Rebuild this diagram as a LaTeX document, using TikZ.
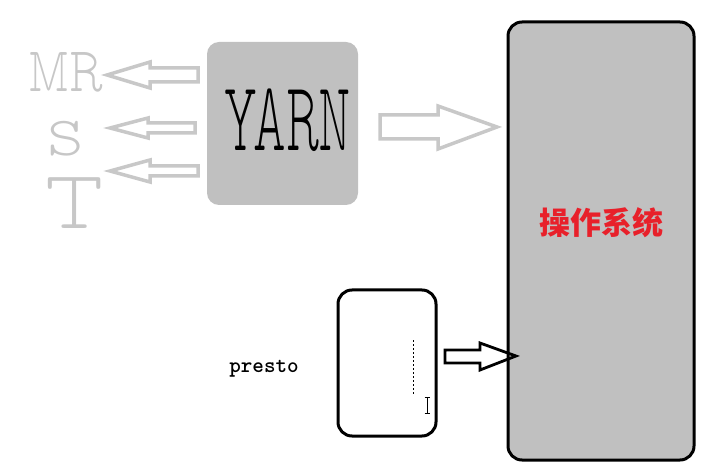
\documentclass[tikz,border=0pt]{standalone}
\usepackage{fontspec}
\newfontfamily\cjk{Noto Sans CJK SC}
\newfontfamily\fina{lmmonoproplt10-regular.otf}
\usetikzlibrary{positioning}
\definecolor{grisc}{HTML}{C0C0C0}
\definecolor{grisf}{HTML}{C8C8C8}
\definecolor{rojo}{HTML}{E8202A}
\tikzset{
  caja/.style={rectangle, rounded corners=14pt, fill=grisc, inner sep=0pt},
  flechagris/.style={draw=grisf, line width=3.5pt, line join=miter},
  flechanegra/.style={draw=black, line width=2.8pt, line join=miter},
  mano/.style={text=black!22, inner sep=0pt}
}
\begin{document}
\begin{tikzpicture}[x=1pt, y=-1pt]
            \useasboundingbox (0,0) rectangle (720,462);
            \node [caja, draw=black, line width=3pt, minimum width=186pt, minimum height=438pt] (so) at (601,241) {}; % sistema operativo
            \node [text=rojo, font=\cjk\bfseries\fontsize{31}{31}\selectfont] (titulo) at (so.center) [yshift=18pt] {操作系统};
            \node [caja, rounded corners=12pt, minimum width=151pt, minimum height=163pt] (yarn) at (282.5,123.5) {}; % yarn
            \node [inner sep=0pt, xscale=1, yscale=2.3, font=\fina\fontsize{43}{43}\selectfont] (yarntxt) at (288,120) {YARN};
            \node [caja, fill=white, draw=black, line width=3pt, minimum width=98pt, minimum height=146pt] (presto) at (387,363) {}; % presto
            \node [font=\ttfamily\bfseries\fontsize{22}{22}\selectfont] (prestotxt) at (264,369) {presto};
            % letras a mano
            \node [mano, xscale=1, yscale=1.45, font=\fina\fontsize{44}{44}\selectfont] (mr) at (66,72) {MR};
            \node [mano, xscale=1.25, yscale=1.1, font=\fina\fontsize{50}{50}\selectfont] (s) at (66,139) {S};
            \node [mano, xscale=1.2, yscale=1.3, font=\fina\fontsize{64}{64}\selectfont] (t) at (75,203) {T};
            % flechas grises
            \draw [flechagris] (198,68) -- (150,68) -- (150,62) -- (107,75) -- (150,88) -- (150,82) -- (198,82) -- cycle;
            \draw [flechagris] (195,123) -- (148,123) -- (148,118) -- (110,128) -- (148,138) -- (148,133) -- (195,133) -- cycle;
            \draw [flechagris] (198,166) -- (150,166) -- (150,160) -- (110,171) -- (150,182) -- (150,176) -- (198,176) -- cycle;
            \draw [flechagris] (380,115) -- (438,115) -- (438,106) -- (497,127) -- (438,149) -- (438,139) -- (380,139) -- cycle;
            % flecha negra
            \draw [flechanegra] (445,350) -- (480,350) -- (480,343) -- (516,356) -- (480,370) -- (480,363) -- (445,363) -- cycle;
            % cursor
            \draw [thin, dash pattern=on 2pt off 2pt] (413,340) -- (413,395);
            \draw [thin] (427,397) -- (427,413) (424.5,397) -- (429.5,397) (424.5,413) -- (429.5,413);
\end{tikzpicture}
\end{document}
